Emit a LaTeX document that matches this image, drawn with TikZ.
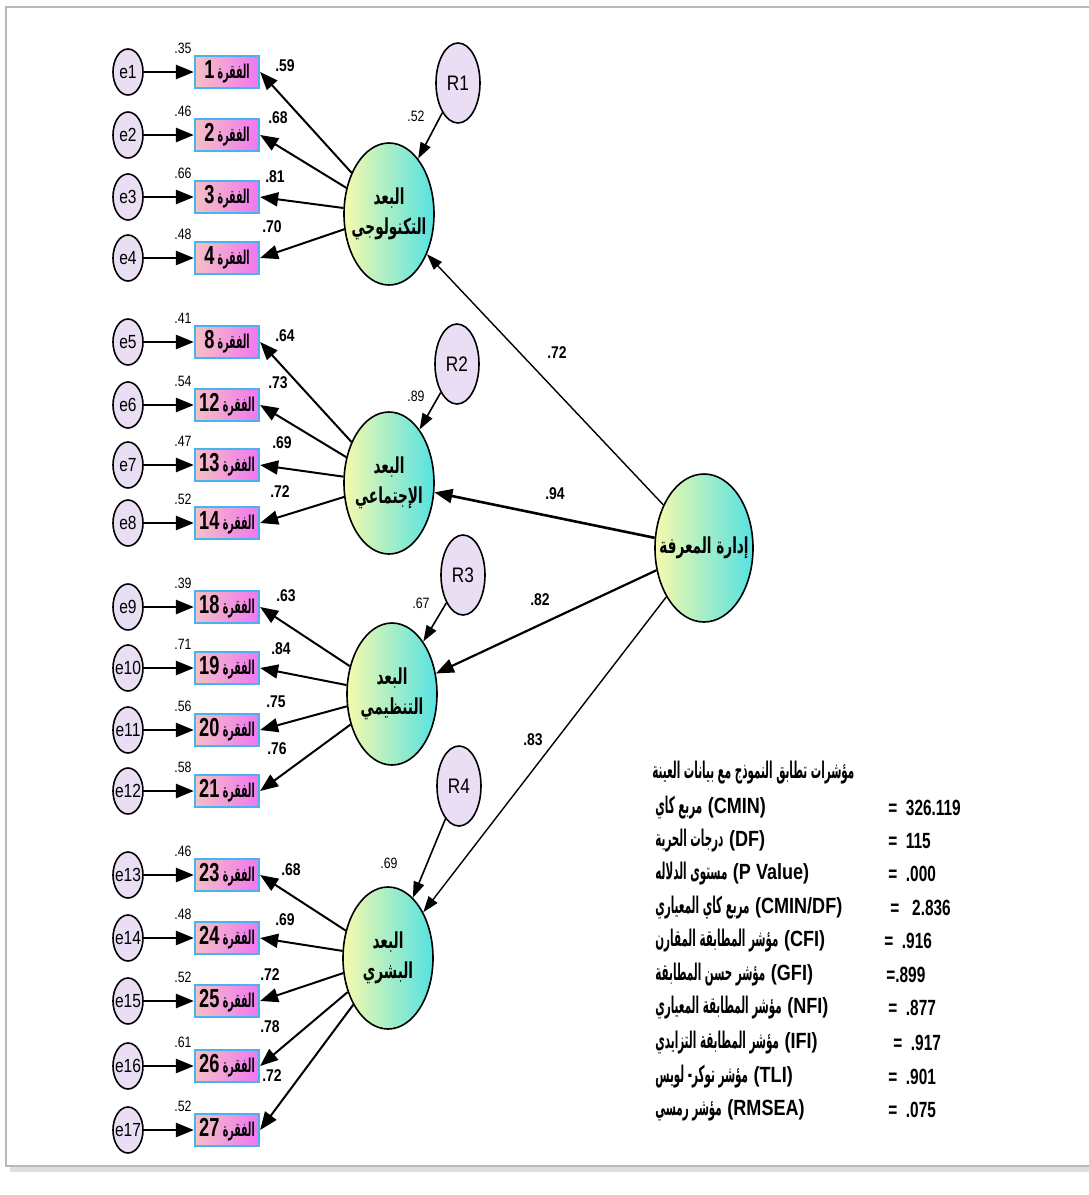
\documentclass[tikz,border=0pt]{standalone}
\usepackage{fontspec}
\setmainfont{Liberation Sans}
\newfontfamily\narrow[FakeStretch=0.82]{Liberation Sans}
\newfontfamily\narrowb[FakeStretch=0.7]{Liberation Sans}
\newfontfamily\ar[Script=Arabic,FakeStretch=0.62]{DejaVu Sans}
\newfontfamily\ari[Script=Arabic,FakeStretch=0.5]{DejaVu Sans}
\newfontfamily\arn[Script=Arabic,FakeStretch=0.45]{DejaVu Sans}
\TeXXeTstate=1
\usetikzlibrary{arrows.meta,shapes.geometric}
\definecolor{pinkL}{RGB}{244,192,196}
\definecolor{magR}{RGB}{240,118,240}
\definecolor{itemborder}{RGB}{70,180,240}
\definecolor{latL}{RGB}{246,250,172}
\definecolor{latR}{RGB}{86,226,226}
\definecolor{errfill}{RGB}{234,222,244}
\newcommand\itemtxt[1]{{\narrowb\bfseries\fontsize{13}{13}\selectfont #1}\,{\ari\bfseries\fontsize{9.5}{9}\selectfont\beginR الفقرة\endR}}
\newcommand\artxt[1]{{\arn\bfseries\fontsize{11.5}{12}\selectfont\beginR #1\endR}}
\newcommand\lat[1]{{\narrow\bfseries\fontsize{11}{12}\selectfont (#1)}}
\begin{document}
\begin{tikzpicture}[x=0.5pt,y=-0.5pt,
  errnode/.style={ellipse,draw,line width=0.8pt,fill=errfill,minimum width=15pt,minimum height=23pt,inner sep=0pt},
  errtxt/.style={font=\narrow\fontsize{9.5}{10}\selectfont,inner sep=0pt},
  resnode/.style={ellipse,draw,line width=0.8pt,fill=errfill,minimum width=22pt,minimum height=40pt,inner sep=0pt,font=\narrow\fontsize{10.5}{11}\selectfont},
  itembox/.style={rectangle,draw=itemborder,line width=1.1pt,left color=pinkL,right color=magR,minimum width=32pt,minimum height=16pt,inner sep=0pt},
  latnode/.style={ellipse,draw,line width=0.8pt,left color=latL,right color=latR,minimum width=45pt,minimum height=71pt,inner sep=0pt},
  lattxt/.style={align=center,inner sep=0pt,font=\ar\bfseries\fontsize{11}{15}\selectfont},
  arr/.style={-{Triangle[length=9pt,width=7pt]}},
  arrs/.style={-{Triangle[length=8pt,width=5.5pt]}},
  loadlbl/.style={font=\narrow\bfseries\fontsize{8.5}{9}\selectfont,inner sep=0pt},
  rsqlbl/.style={font=\narrow\fontsize{7.5}{8}\selectfont,inner sep=0pt},
  fitrow/.style={anchor=west,inner sep=0pt},
  fitval/.style={anchor=west,inner sep=0pt,font=\narrowb\bfseries\fontsize{11}{12}\selectfont}
]
\useasboundingbox (0,0) rectangle (1088,1195);
\fill[white] (0,0) rectangle (1088,1195);
% frame with shadow
\fill[gray!25] (10,12) rectangle (1100,1172);
\draw[gray!55,line width=0.6pt,fill=white] (6,7) rectangle (1096,1166);

% error terms and items
\foreach \i/\y/\n in {1/72/1,2/135/2,3/197/3,4/258/4,5/342/8,6/405/12,7/465/13,8/523/14,9/607/18,10/668/19,11/730/20,12/791/21,13/875/23,14/938/24,15/1001/25,16/1066/26,17/1130/27}{
  \node[errnode] (e\i) at (128,\y) {};
  \node[errtxt] at (e\i.center) {e\i};
  \node[itembox] (q\i) at (227,\y) {\itemtxt{\n}};
  \draw[arr,line width=1.3pt] (e\i) -- (q\i.west);
}
% r-square labels
\foreach \i/\v in {1/.35,2/.46,3/.66,4/.48,5/.41,6/.54,7/.47,8/.52,9/.39,10/.71,11/.56,12/.58,13/.46,14/.48,15/.52,16/.61,17/.52}{
  \node[rsqlbl] at ([shift={(-44,-24)}]q\i.center) {\v};
}

% latent factors
\node[latnode] (L1) at (389,214) {};
\node[lattxt] at (L1.center) {\beginR البعد\endR\\\beginR التكنولوجي\endR};
\node[latnode] (L2) at (389,483) {};
\node[lattxt] at (L2.center) {\beginR البعد\endR\\\beginR الإجتماعي\endR};
\node[latnode] (L3) at (392,694) {};
\node[lattxt] at (L3.center) {\beginR البعد\endR\\\beginR التنظيمي\endR};
\node[latnode] (L4) at (388,958) {};
\node[lattxt] at (L4.center) {\beginR البعد\endR\\\beginR البشري\endR};
\node[latnode,minimum width=49pt,minimum height=74pt] (M) at (704,548) {};
\node[lattxt] at (M.center) {\beginR إدارة المعرفة\endR};

% residuals
\node[resnode] (R1) at (458,83) {R1};
\node[resnode] (R2) at (457,364) {R2};
\node[resnode] (R3) at (463,575) {R3};
\node[resnode] (R4) at (459,786) {R4};
\foreach \r in {1,2,3,4}{\draw[arrs,line width=0.8pt] (R\r) -- (L\r);}
\node[rsqlbl] at (416,116) {.52};
\node[rsqlbl] at (416,396) {.89};
\node[rsqlbl] at (421,603) {.67};
\node[rsqlbl] at (389,863) {.69};

% loadings
\foreach \i in {1,2,3,4}{\draw[arr,line width=1pt] (L1) -- (q\i.east);}
\foreach \i in {5,6,7,8}{\draw[arr,line width=1pt] (L2) -- (q\i.east);}
\foreach \i in {9,10,11,12}{\draw[arr,line width=1pt] (L3) -- (q\i.east);}
\foreach \i in {13,14,15,16,17}{\draw[arr,line width=1pt] (L4) -- (q\i.east);}
\foreach \x/\y/\v in {285/66/.59,278/118/.68,275/177/.81,272/227/.70,285/336/.64,278/383/.73,282/443/.69,280/492/.72,286/596/.63,281/649/.84,276/702/.75,277/749/.76,291/870/.68,285/920/.69,270/975/.72,270/1027/.78,272/1076/.72}{
  \node[loadlbl] at (\x,\y) {\v};
}

% structural paths
\draw[arrs,line width=0.7pt] (M) -- (L1);
\draw[arr,line width=1.3pt] (M) -- (L2);
\draw[arr,line width=1.1pt] (M) -- (L3);
\draw[arrs,line width=0.7pt] (M) -- (L4);
\node[loadlbl] at (557,353) {.72};
\node[loadlbl] at (555,494) {.94};
\node[loadlbl] at (540,600) {.82};
\node[loadlbl] at (533,740) {.83};

% fit indices
\node[fitrow] (t0) at (652,773) {\artxt{مؤشرات تطابق النموذج مع بيانات العينة}};
\node[fitrow] (t1) at (655,808) {\artxt{مربع كاي} \lat{CMIN}};
\node[fitrow] (t2) at (655,841) {\artxt{درجات الحرية} \lat{DF}};
\node[fitrow] (t3) at (655,874) {\artxt{مستوى الدلاله} \lat{P Value}};
\node[fitrow] (t4) at (655,908) {\artxt{مربع كاي المعياري} \lat{CMIN/DF}};
\node[fitrow] (t5) at (655,941) {\artxt{مؤشر المطابقة المقارن} \lat{CFI}};
\node[fitrow] (t6) at (655,975) {\artxt{مؤشر حسن المطابقة} \lat{GFI}};
\node[fitrow] (t7) at (655,1008) {\artxt{مؤشر المطابقة المعياري} \lat{NFI}};
\node[fitrow] (t8) at (655,1043) {\artxt{مؤشر المطابقة التزايدي} \lat{IFI}};
\node[fitrow] (t9) at (655,1077) {\artxt{مؤشر توكر- لويس} \lat{TLI}};
\node[fitrow] (t10) at (655,1110) {\artxt{مؤشر رمسي} \lat{RMSEA}};
\node[fitval] (v1) at (888,808) {=\ \ 326.119};
\node[fitval] (v2) at (888,841) {=\ \ 115};
\node[fitval] (v3) at (888,874) {=\ \ .000};
\node[fitval] (v4) at (890,908) {=\ \ \ 2.836};
\node[fitval] (v5) at (884,941) {=\ \ .916};
\node[fitval] (v6) at (886,975) {=.899};
\node[fitval] (v7) at (888,1008) {=\ \ .877};
\node[fitval] (v8) at (893,1043) {=\ \ .917};
\node[fitval] (v9) at (888,1077) {=\ \ .901};
\node[fitval] (v10) at (888,1110) {=\ \ .075};
\end{tikzpicture}
\end{document}
